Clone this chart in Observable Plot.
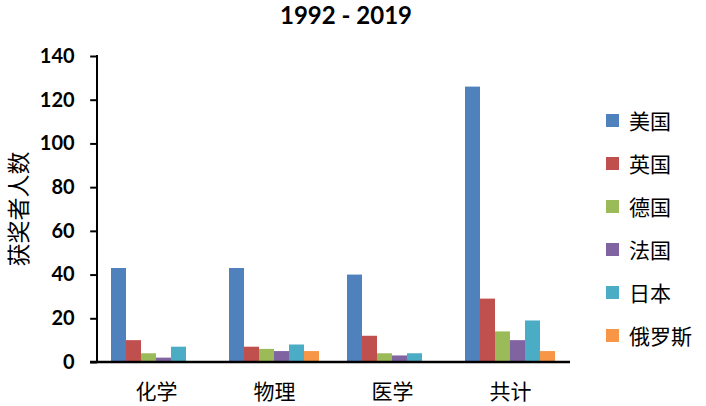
<!DOCTYPE html>
<html>
<head>
<meta charset="utf-8">
<script src="https://cdn.jsdelivr.net/npm/d3@7"></script>
<script src="https://cdn.jsdelivr.net/npm/@observablehq/plot@0.6"></script>
<style>
  html, body { margin: 0; padding: 0; background: #fff; }
  #wrap { position: relative; width: 706px; height: 406px; overflow: hidden; }
  #chart { position: absolute; top: 0; left: 0; }
  #title { position: absolute; top: 2px; left: 346px; transform: translateX(-50%); font: bold 24px Lato, "Open Sans", sans-serif; line-height: 26px; color: #000; white-space: nowrap; }
  #legend { position: absolute; left: 606px; top: 0; font-family: "Noto Sans CJK SC", sans-serif; font-size: 21px; color: #000; }
  .item { position: absolute; left: 0; height: 26px; display: flex; align-items: center; white-space: nowrap; }
  .sw { width: 13px; height: 13px; margin-right: 10px; }
</style>
</head>
<body>
<div id="wrap">
  <div id="chart"></div>
  <div id="title">1992 - 2019</div>
  <div id="legend"></div>
</div>
<script>
const title = "1992 - 2019";
const yLabel = "获奖者人数";
const categories = ["化学", "物理", "医学", "共计"];
const countries = ["美国", "英国", "德国", "法国", "日本", "俄罗斯"];
const colors = ["#4F81BD", "#C0504D", "#9BBB59", "#8064A2", "#4BACC6", "#F79646"];
const chemistry = [43, 10, 4, 2, 7, 0];
const physics = [43, 7, 6, 5, 8, 5];
const medicine = [40, 12, 4, 3, 4, 0];
const total = [126, 29, 14, 10, 19, 5];
const yTicks = [0, 20, 40, 60, 80, 100, 120, 140];

const series = [chemistry, physics, medicine, total];
const data = [];
categories.forEach((c, i) => {
  countries.forEach((k, j) => data.push({cat: c, country: k, value: series[i][j]}));
});

const W = 706, H = 406, mL = 97, mR = 136, mT = 56, mB = 44;
const padInner = 0.2, padOuter = 0.1;
// the y axis is drawn in the leftmost facet; shift it back to the frame edge
const facetOffset = ((W - mL - mR) / (categories.length - padInner + 2 * padOuter)) * padOuter;

const chart = Plot.plot({
  width: W,
  height: H,
  marginTop: mT,
  marginBottom: mB,
  marginLeft: mL,
  marginRight: mR,
  style: {fontFamily: "Lato, sans-serif", color: "#000", background: "#fff"},
  fx: {domain: categories, paddingInner: padInner, paddingOuter: padOuter, label: null},
  x: {domain: countries, axis: null, padding: 0},
  y: {domain: [0, 140], label: null},
  color: {domain: countries, range: colors},
  marks: [
    Plot.barY(data, {fx: "cat", x: "country", y: "value", fill: "country"}),
    Plot.axisY({ticks: yTicks, tickSize: 7, tickPadding: 16, strokeWidth: 2, fontSize: 20, fontWeight: "bold", label: null, tickFormat: d => String(d), dx: -facetOffset}),
    Plot.axisFx({anchor: "bottom", tickSize: 0, tickPadding: 22, fontSize: 21, label: null, fontFamily: "Noto Sans CJK SC, sans-serif"})
  ]
});

document.getElementById("chart").appendChild(chart);

// axis lines using the chart's scales
const ys = chart.scale("y");
const svg = d3.select(chart);
const y0 = ys.apply(0), yTop = ys.apply(140);
svg.append("line").attr("x1", mL).attr("x2", mL).attr("y1", yTop - 1).attr("y2", y0 + 1)
  .attr("stroke", "#000").attr("stroke-width", 2);
svg.append("line").attr("x1", mL - 7).attr("x2", W - mR).attr("y1", y0).attr("y2", y0)
  .attr("stroke", "#000").attr("stroke-width", 2.5);
svg.append("text").attr("transform", `translate(17,${(y0 + yTop) / 2}) rotate(-90)`)
  .attr("text-anchor", "middle").attr("dominant-baseline", "central")
  .attr("font-family", "Noto Sans CJK SC, sans-serif").attr("font-size", 23)
  .attr("fill", "#000").text(yLabel);

// legend
const legend = document.getElementById("legend");
const legendTop = 120, legendStep = 43;
countries.forEach((k, i) => {
  const it = document.createElement("div");
  it.className = "item";
  it.style.top = (legendTop + i * legendStep - 13) + "px";
  const sw = document.createElement("div");
  sw.className = "sw";
  sw.style.background = colors[i];
  const tx = document.createElement("span");
  tx.textContent = k;
  it.appendChild(sw);
  it.appendChild(tx);
  legend.appendChild(it);
});
document.getElementById("title").textContent = title;
</script>
</body>
</html>
